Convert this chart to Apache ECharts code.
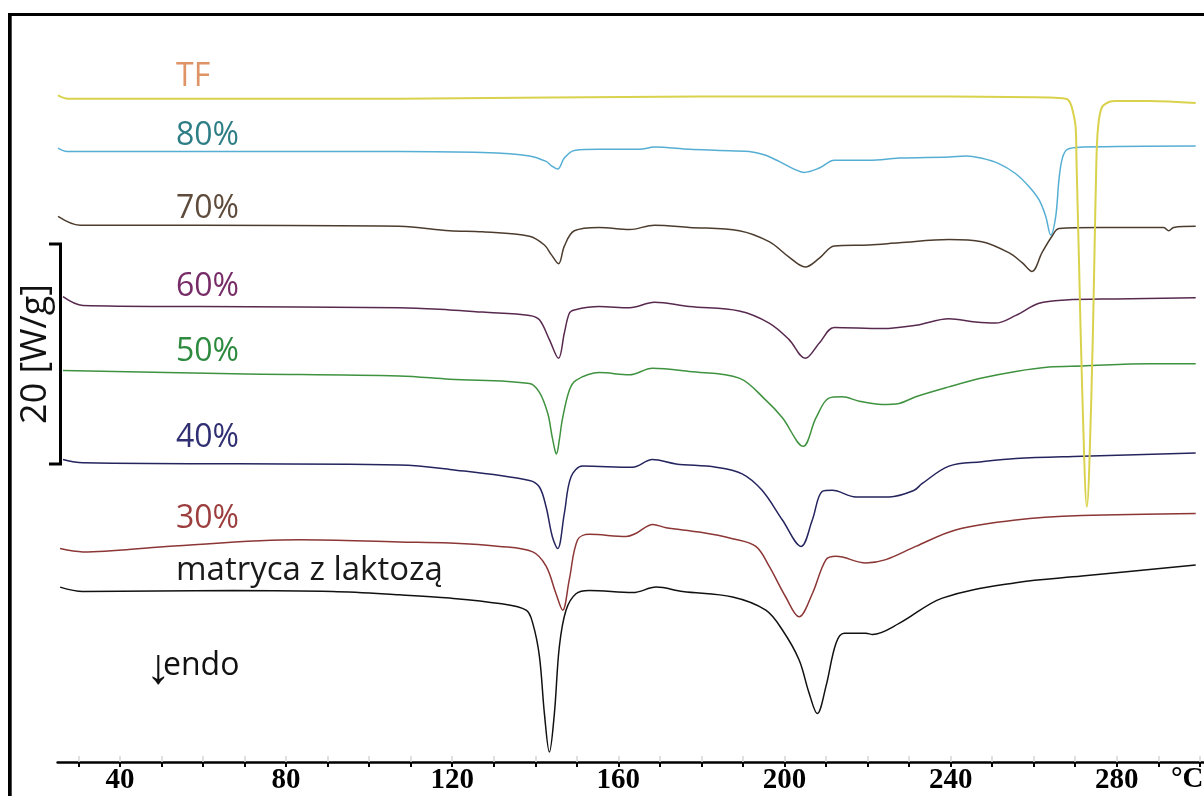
<!DOCTYPE html>
<html>
<head>
<meta charset="utf-8">
<title>DSC – matryca z laktozą</title>
<script src="https://cdn.jsdelivr.net/npm/echarts@6/dist/echarts.min.js"></script>
<style>
  html, body { margin: 0; padding: 0; background: #ffffff; }
  #chart { width: 1204px; height: 796px; }
</style>
</head>
<body>
<div id="chart"></div>
<script>
// Temperature axis: tick marks every 10 °C, labels every 40 °C
const tempTicks = [30, 40, 50, 60, 70, 80, 90, 100, 110, 120, 130, 140, 150, 160, 170, 180, 190, 200,
                   210, 220, 230, 240, 250, 260, 270, 280, 290, 300];
const tempLabels = [40, 80, 120, 160, 200, 240, 280];

// Sample names, top curve first
const sampleNames = ['TF', '80%', '70%', '60%', '50%', '40%', '30%', 'matryca z laktozą'];

// DSC thermograms: [temperature °C, heat flow W/g, curves stacked with offsets]
const curveTF = [
  [25.1, 60.6], [27.5, 60.3], [40, 60.3], [107.3, 60.3], [179.5, 60.5], [208.4, 60.5], [218, 60.5],
  [239.6, 60.5], [263.7, 60.4], [267.7, 60.3], [268.5, 60.1], [269.2, 59.5], [270.1, 57.7],
  [270.3, 54.7], [270.9, 45.6], [271.7, 33.5], [272.8, 23.2], [273.9, 33.5], [274.6, 45.6],
  [275.1, 54.7], [275.5, 57.7], [276.4, 59.5], [278.1, 60.0], [279.8, 60.1], [287.7, 60.1], [299, 59.9]
];
const curve80 = [
  [25.1, 55.8], [27.3, 55.5], [59.2, 55.5], [107.3, 55.5], [127.3, 55.4], [138.6, 55.1], [142.6, 54.6],
  [143.9, 54.2], [145.4, 53.9], [147.0, 54.9], [149.4, 55.6], [155.4, 55.7], [165.1, 55.7], [168.7, 55.9],
  [177.1, 55.7], [184.3, 55.6], [191.5, 55.5], [195.1, 55.2], [198.7, 54.6], [202.3, 53.9], [204.7, 53.6],
  [208.4, 54.0], [212.0, 54.7], [220.4, 54.7], [227.6, 54.9], [239.6, 55.0], [243.7, 55.1], [247.3, 54.9],
  [251.6, 54.4], [255.6, 53.5], [258.9, 52.3], [261.3, 51.1], [262.9, 49.6], [264.1, 47.9], [265.3, 49.6],
  [266.1, 53.0], [266.9, 54.9], [268.1, 55.7], [271.7, 55.9], [299, 56.0]
];
const curve70 = [
  [25.1, 49.6], [30.4, 48.8], [59.2, 48.8], [107.3, 48.7], [119.4, 48.3], [127.3, 48.2], [138.6, 47.8],
  [142.2, 47.0], [143.9, 46.1], [145.6, 45.3], [147.0, 46.9], [149.4, 48.3], [155.4, 48.6], [162.7, 48.4],
  [168.7, 48.8], [177.1, 48.6], [189.1, 48.3], [196.3, 47.3], [201.1, 45.9], [205.0, 45.0], [208.4, 45.8],
  [212.0, 46.9], [220.4, 47.0], [227.6, 47.2], [239.6, 47.5], [247.5, 47.3], [254.0, 46.3], [257.2, 45.4],
  [259.6, 44.6], [262.0, 46.3], [264.4, 47.8], [266.1, 48.5], [275.7, 48.6], [291.3, 48.6], [292.5, 48.3],
  [293.7, 48.6], [299, 48.7]
];
const curve60 = [
  [26.3, 42.3], [31.1, 41.5], [59.2, 41.4], [107.3, 41.3], [119.4, 41.1], [127.3, 40.9], [138.6, 40.6],
  [141.0, 40.2], [143.4, 38.4], [145.6, 36.7], [147.0, 39.0], [148.2, 40.8], [149.4, 41.1], [155.4, 41.4],
  [162.7, 41.3], [168.7, 41.8], [177.1, 41.4], [189.1, 41.0], [196.3, 39.9], [201.1, 38.4], [205.0, 36.7],
  [208.4, 38.1], [212.0, 39.5], [223.5, 39.4], [231.6, 39.7], [239.6, 40.3], [246.0, 40.0], [250.8, 39.9],
  [255.7, 40.6], [261.3, 41.7], [267.7, 42.0], [279.7, 42.1], [299, 42.2]
];
const curve50 = [
  [26.3, 35.6], [67.2, 35.3], [107.3, 35.1], [119.4, 34.8], [138.6, 34.4], [141.0, 33.6], [143.0, 31.7],
  [144.0, 29.7], [144.7, 28.4], [145.1, 28.0], [145.8, 29.3], [146.5, 31.1], [148.2, 33.8], [149.8, 34.7],
  [155.4, 35.4], [162.7, 35.2], [168.2, 35.8], [177.1, 35.5], [189.1, 34.9], [195.5, 32.9], [199.5, 31.3],
  [204.5, 28.7], [207.6, 31.3], [210.8, 33.1], [213.9, 33.2], [218.0, 32.8], [223.5, 32.5], [227.6, 32.6],
  [231.6, 33.2], [239.6, 34.1], [247.5, 34.9], [255.7, 35.5], [263.7, 35.9], [271.6, 36.0], [287.7, 36.2],
  [299, 36.2]
];
const curve40 = [
  [26.3, 27.5], [31.1, 27.2], [107.3, 27.0], [119.4, 26.6], [138.6, 25.6], [141.0, 25.0], [142.6, 23.2],
  [144.1, 20.5], [145.4, 19.4], [147.0, 22.6], [148.6, 25.9], [151.4, 26.9], [163.4, 26.8], [168.2, 27.5],
  [173.9, 27.1], [183.5, 26.8], [189.8, 26.2], [194.6, 24.7], [199.5, 22.0], [204.0, 19.6], [206.7, 22.0],
  [209.1, 24.6], [211.5, 24.7], [217.2, 24.1], [225.2, 24.1], [231.2, 24.7], [233.1, 25.3], [239.6, 26.9],
  [247.5, 27.3], [255.7, 27.6], [271.6, 27.8], [299, 28.1]
];
const curve30 = [
  [25.6, 19.4], [31.1, 19.1], [51.2, 19.6], [83.3, 20.2], [107.3, 20.0], [119.4, 19.9], [131.4, 19.6],
  [139.4, 19.1], [142.6, 17.8], [145.0, 15.3], [146.6, 13.8], [148.2, 16.6], [150.2, 20.2], [153.0, 20.7],
  [161.9, 20.5], [164.3, 20.8], [168.3, 21.6], [171.5, 21.3], [179.5, 20.9], [187.5, 20.3], [193.1, 19.6],
  [196.3, 17.8], [200.3, 15.0], [203.5, 13.2], [206.7, 15.3], [210.0, 18.4], [212.4, 18.7], [219.6, 18.1],
  [224.4, 18.4], [231.6, 19.6], [241.2, 21.1], [255.7, 22.0], [271.6, 22.4], [299, 22.6]
];
const curveMatrix = [
  [25.6, 15.9], [31.1, 15.5], [67.2, 15.6], [91.2, 15.5], [107.3, 15.2], [119.4, 14.9], [131.4, 14.4],
  [137.8, 13.8], [139.4, 12.6], [141.0, 9.6], [142.2, 4.4], [143.4, 0.9], [144.6, 4.4], [145.8, 10.5],
  [147.4, 13.8], [149.8, 15.3], [153.0, 15.6], [163.5, 15.4], [169.1, 15.9], [175.5, 15.5], [187.5, 15.0],
  [195.5, 13.8], [199.5, 12.0], [203.5, 9.3], [205.9, 6.3], [207.9, 4.4], [210.0, 6.9], [212.4, 10.8],
  [214.4, 11.7], [219.6, 11.7], [221.2, 11.6], [227.6, 12.6], [238.0, 14.9], [255.7, 16.3], [271.6, 16.9],
  [299, 17.9]
];
const curves = [curveTF, curve80, curve70, curve60, curve50, curve40, curve30, curveMatrix];

// Heat-flow scale bar (W/g) and the level it starts from
const scaleBarSpan = 20;
const scaleBarBase = 27.1;

// Appearance
const lineColors = ['#d9d24c', '#55aed3', '#4c3c2e', '#58294f', '#3f923f', '#24245e', '#8c3636', '#111111'];
const labelColors = ['#de9466', '#2f7e86', '#5e4b3b', '#772c68', '#2d8a3f', '#2f2f72', '#9c3e3e', '#1a1a1a'];
const labelY = [77, 136, 209, 287, 352, 438, 519, 571];

const chart = echarts.init(document.getElementById('chart'), null, { renderer: 'canvas' });

chart.setOption({
  animation: false,
  backgroundColor: '#ffffff',
  grid: { left: 57.6, width: 1147.6, top: 14, bottom: 34, containLabel: false },
  xAxis: [{
    type: 'value', min: 25, max: 301,
    axisLine: { show: true, onZero: false, lineStyle: { color: '#000', width: 2.5 } },
    axisTick: { show: true, customValues: tempTicks, length: 5, lineStyle: { color: '#000', width: 2 } },
    axisLabel: {
      customValues: tempLabels, margin: 4, color: '#000',
      fontFamily: 'Liberation Serif', fontWeight: 'bold', fontSize: 29
    },
    splitLine: { show: false }
  }, {
    type: 'value', min: 25, max: 301, position: 'bottom', offset: 0,
    axisLine: { show: false },
    axisTick: { show: true, inside: true, customValues: tempTicks, length: 6, lineStyle: { color: '#d6d6d6', width: 1.5 } },
    axisLabel: { show: false },
    splitLine: { show: false }
  }],
  yAxis: { type: 'value', min: 0, max: 68, show: false },
  series: curves.map((data, i) => ({
    type: 'line',
    name: sampleNames[i],
    data: data,
    xAxisIndex: 0,
    symbol: 'none',
    smooth: 0.35,
    silent: true,
    z: i === 0 ? 4 : 3,
    lineStyle: { color: lineColors[i], width: i === 0 ? 2 : 1.5 }
  }))
});

// Scale bar placed through the heat-flow axis
const yTop = chart.convertToPixel({ yAxisIndex: 0 }, scaleBarBase + scaleBarSpan);
const yBot = chart.convertToPixel({ yAxisIndex: 0 }, scaleBarBase);

const graphics = [
  // frame edges
  { type: 'rect', shape: { x: 8, y: 13, width: 3.7, height: 783 }, style: { fill: '#000' }, silent: true },
  { type: 'rect', shape: { x: 8, y: 13, width: 1196, height: 3 }, style: { fill: '#000' }, silent: true },
  // scale bar
  {
    type: 'polyline', silent: true,
    shape: { points: [[49, yTop], [60.5, yTop], [60.5, yBot], [49, yBot]] },
    style: { stroke: '#000', lineWidth: 3, fill: null }
  },
  {
    type: 'text', silent: true, x: 36, y: (yTop + yBot) / 2, rotation: Math.PI / 2,
    style: {
      text: scaleBarSpan + ' [W/g]', fill: '#111', font: '36px "Open Sans"',
      align: 'center', verticalAlign: 'middle'
    }
  },
  // endotherm direction
  {
    type: 'text', silent: true, x: 146, y: 669,
    style: { text: '↓', fill: '#111', font: '50px "Open Sans"', align: 'left', verticalAlign: 'middle' }
  },
  {
    type: 'text', silent: true, x: 163, y: 666,
    style: { text: 'endo', fill: '#111', font: '32px "Open Sans"', align: 'left', verticalAlign: 'middle' }
  },
  // unit of the temperature axis
  {
    type: 'text', silent: true, x: 1171, y: 780,
    style: { text: '°C', fill: '#000', font: 'bold 29px "Liberation Serif"', align: 'left', verticalAlign: 'middle' }
  }
];

// curve names
sampleNames.forEach((name, i) => {
  graphics.push({
    type: 'text', silent: true, x: 176, y: labelY[i],
    style: {
      text: name, fill: labelColors[i],
      font: (i === 7 ? '33px' : '32px') + ' "Open Sans"',
      align: 'left', verticalAlign: 'middle'
    }
  });
});

chart.setOption({ graphic: graphics });
</script>
</body>
</html>
